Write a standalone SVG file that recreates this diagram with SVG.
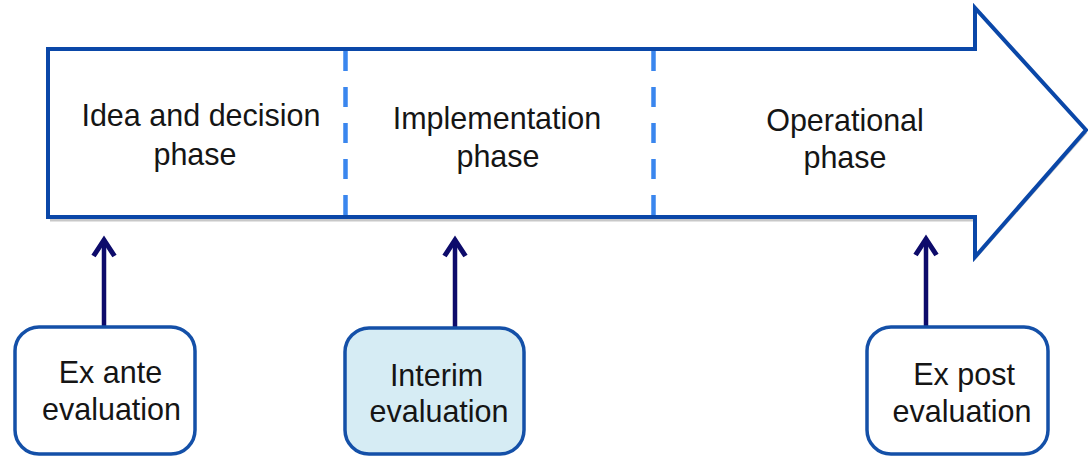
<svg xmlns="http://www.w3.org/2000/svg" width="1088" height="458" viewBox="0 0 1088 458">
<style>
.t{font-family:"Liberation Sans",Arial,sans-serif;font-size:30.5px;fill:#151515;text-anchor:middle}
.box{stroke:#1450a8;stroke-width:3.5;fill:#ffffff}
.div{stroke:#3a86ee;stroke-width:4.5;stroke-dasharray:20 16;fill:none}
.con{stroke:#0d0b6b;stroke-width:4.5;fill:none}
</style>
<defs>
<marker id="ah" viewBox="0 0 26 26" refX="20" refY="13" markerWidth="26" markerHeight="26" markerUnits="userSpaceOnUse" orient="auto">
<path d="M4,2.5 L20,13 L4,23.5" fill="none" stroke="#0d0b6b" stroke-width="5" stroke-linejoin="miter" stroke-linecap="butt"/>
</marker>
</defs>
<g id="timeline">
<path d="M50,220 L975,220 L975,258 L1086,132" fill="none" stroke="#c8c8c8" stroke-width="3"/>
<path d="M48,49 L975,49 L975,8 L1086,130 L975,257 L975,217 L48,217 Z" fill="#ffffff" stroke="#0a47a8" stroke-width="4" stroke-linejoin="miter"/>
<line class="div" x1="345.5" y1="51" x2="345.5" y2="215"/>
<line class="div" x1="653.5" y1="51" x2="653.5" y2="215"/>
</g>
<g id="phase-idea">
<text class="t" x="201" y="126">Idea and decision</text>
<text class="t" x="195" y="165">phase</text>
</g>
<g id="phase-impl">
<text class="t" x="497" y="129">Implementation</text>
<text class="t" x="498" y="167">phase</text>
</g>
<g id="phase-oper">
<text class="t" x="845" y="131">Operational</text>
<text class="t" x="845" y="168">phase</text>
</g>
<g id="connectors">
<line class="con" x1="104" y1="327" x2="104" y2="240" marker-end="url(#ah)"/>
<line class="con" x1="455" y1="328" x2="455" y2="240" marker-end="url(#ah)"/>
<line class="con" x1="926" y1="327" x2="926" y2="239" marker-end="url(#ah)"/>
</g>
<g id="ex-ante">
<rect class="box" x="15" y="327" width="180" height="127" rx="24"/>
<text class="t" x="110.5" y="383">Ex ante</text>
<text class="t" x="111.5" y="420">evaluation</text>
</g>
<g id="interim">
<rect class="box" x="345" y="328" width="179" height="126" rx="24" style="fill:#d6ecf4"/>
<text class="t" x="436.5" y="386">Interim</text>
<text class="t" x="439" y="422">evaluation</text>
</g>
<g id="ex-post">
<rect class="box" x="867" y="327" width="181" height="127" rx="24"/>
<text class="t" x="964" y="385">Ex post</text>
<text class="t" x="962" y="422">evaluation</text>
</g>
</svg>
